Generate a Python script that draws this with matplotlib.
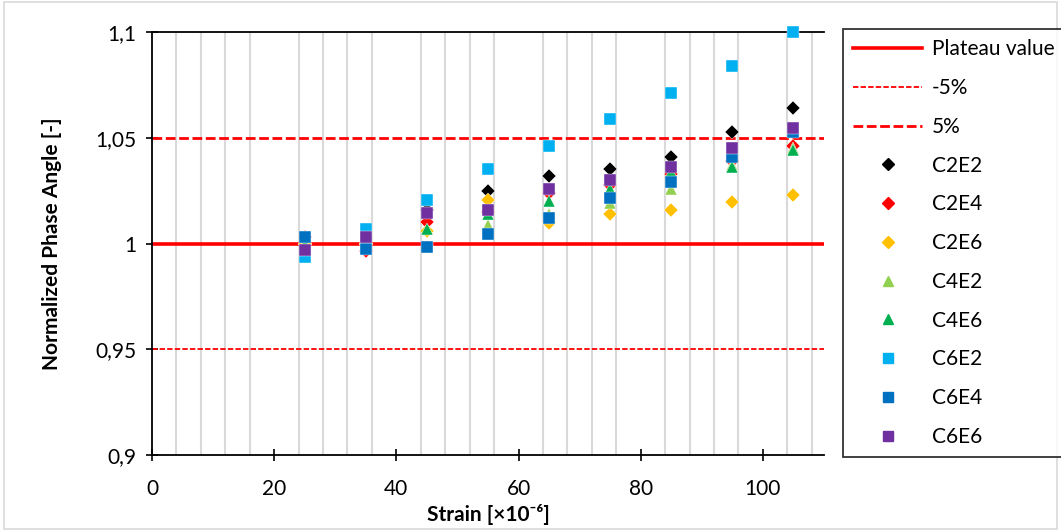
import numpy as np
import matplotlib
matplotlib.use("Agg")
import matplotlib.pyplot as plt
from matplotlib.lines import Line2D
from matplotlib.patches import Rectangle

plt.rcParams['font.family'] = ['Lato', 'DejaVu Sans']

# Datos
deformacion = [25, 35, 45, 55, 65, 75, 85, 95, 105]
C2E2 = [1.000, 1.000, 1.016, 1.025, 1.032, 1.035, 1.041, 1.0525, 1.064]
C2E4 = [1.003, 0.9965, 1.010, 1.015, 1.024, 1.0277, 1.033, 1.039, 1.046]
C2E6 = [1.000, 1.000, 1.006, 1.0206, 1.0097, 1.014, 1.016, 1.0196, 1.023]
C4E2 = [1.000, 1.000, 0.999, 1.0088, 1.014, 1.019, 1.026, 1.037, 1.045]
C4E6 = [1.000, 1.000, 1.007, 1.014, 1.020, 1.026, 1.034, 1.036, 1.044]
C6E2 = [0.9936, 1.007, 1.0208, 1.035, 1.046, 1.059, 1.0712, 1.084, 1.100]
C6E4 = [1.003, 0.9975, 0.9985, 1.0043, 1.012, 1.0215, 1.0293, 1.041, 1.0527]
C6E6 = [0.997, 1.003, 1.0144, 1.0158, 1.026, 1.0298, 1.036, 1.045, 1.0544]

series = [
    ('C2E2', C2E2, 'D', '#000000', 7.5),
    ('C2E4', C2E4, 'D', '#FF0000', 7.5),
    ('C2E6', C2E6, 'D', '#FFC000', 7.5),
    ('C4E2', C4E2, '^', '#92D050', 9),
    ('C4E6', C4E6, '^', '#00B050', 9),
    ('C6E2', C6E2, 's', '#00B0F0', 9),
    ('C6E4', C6E4, 's', '#0070C0', 9),
    ('C6E6', C6E6, 's', '#7030A0', 9),
]

plateau = 1.0
menos5 = 0.95
mas5 = 1.05
y_ticks = [0.9, 0.95, 1.0, 1.05, 1.1]
x_ticks = [0, 20, 40, 60, 80, 100]

fs = 15

fig = plt.figure(figsize=(10.61, 5.31), dpi=100)
ax = fig.add_axes([152/1061, 1-455/531, (824-152)/1061, (455-32)/531])

# rejilla vertical secundaria
ax.set_xticks(np.arange(4, 110, 4), minor=True)
ax.grid(which='minor', axis='x', color='#D9D9D9', lw=1.5)
ax.tick_params(which='minor', length=0)

ax.axhline(plateau, color='#FF0000', lw=2.6, zorder=2)
ax.axhline(menos5, color='#FF0000', lw=1.3, ls=(0, (3, 1.2)), zorder=2)
ax.axhline(mas5, color='#FF0000', lw=2.0, ls=(0, (3.5, 1.3)), zorder=2)

for nombre, vals, m, c, ms in series:
    ax.plot(deformacion, vals, ls='none', marker=m, color=c, ms=ms,
            mec='white', mew=0.3, zorder=3, clip_on=False)

ax.set_xlim(0, 110)
ax.set_ylim(0.9, 1.1)
ax.set_xticks(x_ticks)
ax.set_yticks(y_ticks)
ax.set_yticklabels([('%g' % v).replace('.', ',') for v in y_ticks])
ax.tick_params(which='major', direction='inout', length=8, width=1.2,
               labelsize=fs)
ax.tick_params(axis='x', pad=13)
ax.tick_params(axis='y', pad=7)
for s in ['left', 'bottom', 'top']:
    ax.spines[s].set_linewidth(1.3)
ax.spines['right'].set_visible(False)

ax.set_xlabel('Strain [×10⁻⁶]', fontsize=fs, fontweight='bold', labelpad=4)
ax.set_ylabel('Normalized Phase Angle [-]', fontsize=fs, fontweight='bold',
              labelpad=24)

# leyenda
handles = [
    Line2D([], [], color='#FF0000', lw=2.6),
    Line2D([], [], color='#FF0000', lw=1.3, ls=(0, (3, 1.2))),
    Line2D([], [], color='#FF0000', lw=2.0, ls=(0, (3.5, 1.3))),
]
labels = ['Plateau value', '-5%', '5%']
for nombre, vals, m, c, ms in series:
    handles.append(Line2D([], [], ls='none', marker=m, color=c, ms=ms*0.85))
    labels.append(nombre)
leg = fig.legend(handles, labels, loc='upper left',
                 bbox_to_anchor=(843/1061, 1-29/531), fontsize=fs,
                 frameon=True, fancybox=False, edgecolor='black',
                 handlelength=3.3, handletextpad=0.45, labelspacing=0.9,
                 borderpad=0.5, borderaxespad=0)
leg.get_frame().set_linewidth(1.3)

fig.patches.append(Rectangle((0.004, 0.004), 0.992, 0.992,
                             transform=fig.transFigure, fill=False,
                             edgecolor='#D9D9D9', lw=1.2))

fig.savefig('out.png', dpi=100)
plt.close()
